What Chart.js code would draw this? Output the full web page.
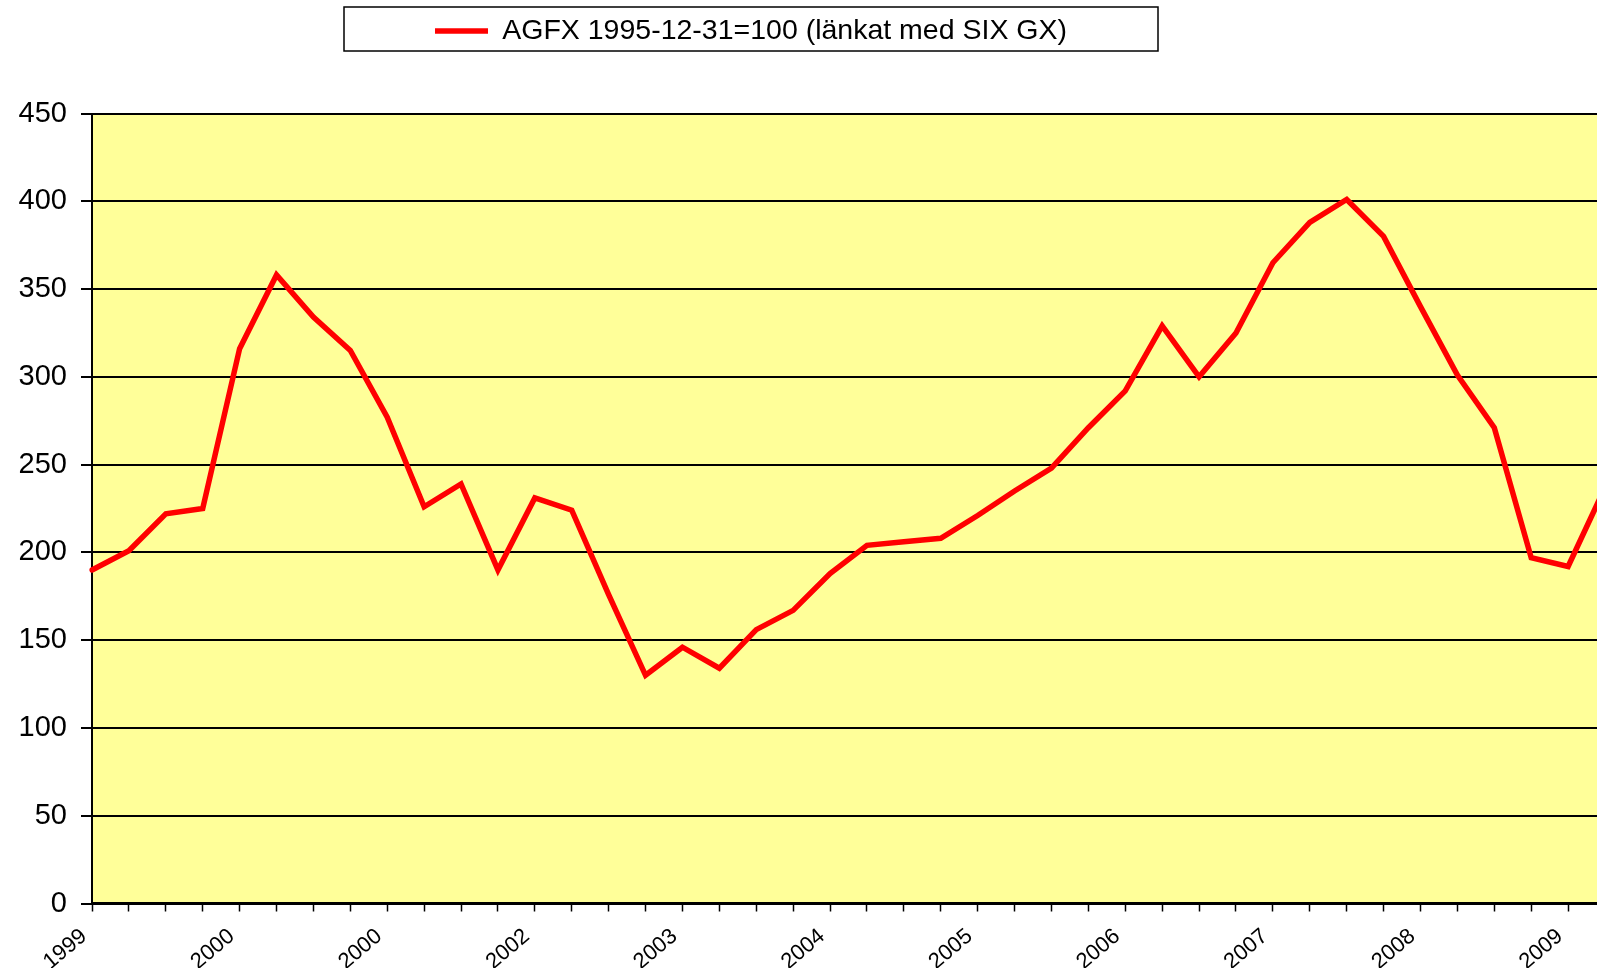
<!DOCTYPE html>
<html lang="sv">
<head>
<meta charset="UTF-8">
<title>AGFX</title>
<style>
  html, body { margin: 0; padding: 0; background: #fff; overflow: hidden; }
  #wrap { position: relative; width: 1605px; height: 968px; }
</style>
</head>
<body>
<div id="wrap"><canvas id="agfxChart"></canvas></div>
<script src="https://cdn.jsdelivr.net/npm/chart.js@4.4.0/dist/chart.umd.min.js"></script>
<script>
// quarterly index values, one per tick on the x axis
const seriesName = 'AGFX 1995-12-31=100 (länkat med SIX GX)';
const tickLabels = ['1999', '2000', '2000', '2002', '2003', '2004', '2005', '2006', '2007', '2008', '2009'];
const values = [190, 201, 222, 225, 316, 358, 334, 315, 277, 226, 239,
                190, 231, 224, 176, 130, 146, 134, 156, 167, 188, 204,
                206, 208, 221, 235, 248, 271, 292, 329, 300, 325, 365,
                388, 401, 380, 340, 301, 271, 197, 192, 237];
const yMin = 0, yMax = 450, yStep = 50;

const labelEvery = 4;
const labels = values.map((v, i) => i % labelEvery === 0 ? (tickLabels[i / labelEvery] || '') : '');

const font = "'Liberation Sans', Arial, sans-serif";
const legendBox = { left: 344, top: 7, right: 1158, bottom: 51 };

// yellow plot area + boxed legend like the old excel chart
const chartDecor = {
  id: 'chartDecor',
  beforeDraw(chart) {
    const { ctx, chartArea: a } = chart;
    ctx.save();
    ctx.fillStyle = '#FFFF99';
    ctx.fillRect(a.left, a.top, a.right - a.left, a.bottom - a.top);
    ctx.restore();

    const lg = chart.legend;
    const h = lg.bottom - lg.top;
    lg.left = legendBox.left;
    lg.right = legendBox.right;
    lg.width = lg.right - lg.left;
    lg.top = (legendBox.top + legendBox.bottom) / 2 - h / 2 + 2;
    lg.bottom = lg.top + h;
  },
  afterDraw(chart) {
    const ctx = chart.ctx;
    ctx.save();
    ctx.strokeStyle = '#000';
    ctx.lineWidth = 1.5;
    ctx.strokeRect(legendBox.left, legendBox.top, legendBox.right - legendBox.left, legendBox.bottom - legendBox.top);
    ctx.restore();
  }
};

new Chart(document.getElementById('agfxChart'), {
  type: 'line',
  data: {
    labels,
    datasets: [{
      label: seriesName,
      data: values,
      borderColor: '#FF0000',
      backgroundColor: '#FF0000',
      borderWidth: 5.5,
      borderCapStyle: 'round',
      borderJoinStyle: 'miter',
      pointRadius: 0,
      tension: 0
    }]
  },
  options: {
    responsive: true,
    maintainAspectRatio: false,
    animation: false,
    layout: { padding: { top: 65, left: 0, right: 0, bottom: 0 } },
    plugins: {
      tooltip: { enabled: false },
      legend: {
        position: 'top',
        labels: {
          color: '#000',
          font: { family: font, size: 28.5 },
          usePointStyle: true,
          pointStyle: 'line',
          pointStyleWidth: 53,
          padding: 10
        }
      }
    },
    scales: {
      x: {
        grid: {
          drawOnChartArea: false,
          drawTicks: true,
          tickLength: 8,
          tickColor: '#000',
          tickWidth: 1.5
        },
        border: { display: true, color: '#000', width: 2.5 },
        ticks: {
          autoSkip: false,
          maxRotation: 40,
          minRotation: 40,
          color: '#000',
          padding: 12,
          labelOffset: -8,
          font: { family: font, size: 22 }
        },
        afterFit(scale) {
          scale.height = 64.5;
          scale.paddingRight = 0;
        }
      },
      y: {
        min: yMin,
        max: yMax,
        grid: {
          color: '#000',
          lineWidth: 2,
          drawTicks: true,
          tickLength: 11,
          tickColor: '#000'
        },
        border: { display: true, color: '#000', width: 2 },
        ticks: {
          stepSize: yStep,
          color: '#000',
          padding: 14,
          font: { family: font, size: 29 }
        },
        afterFit(scale) { scale.width = 92; }
      }
    }
  },
  plugins: [chartDecor]
});
</script>
</body>
</html>
